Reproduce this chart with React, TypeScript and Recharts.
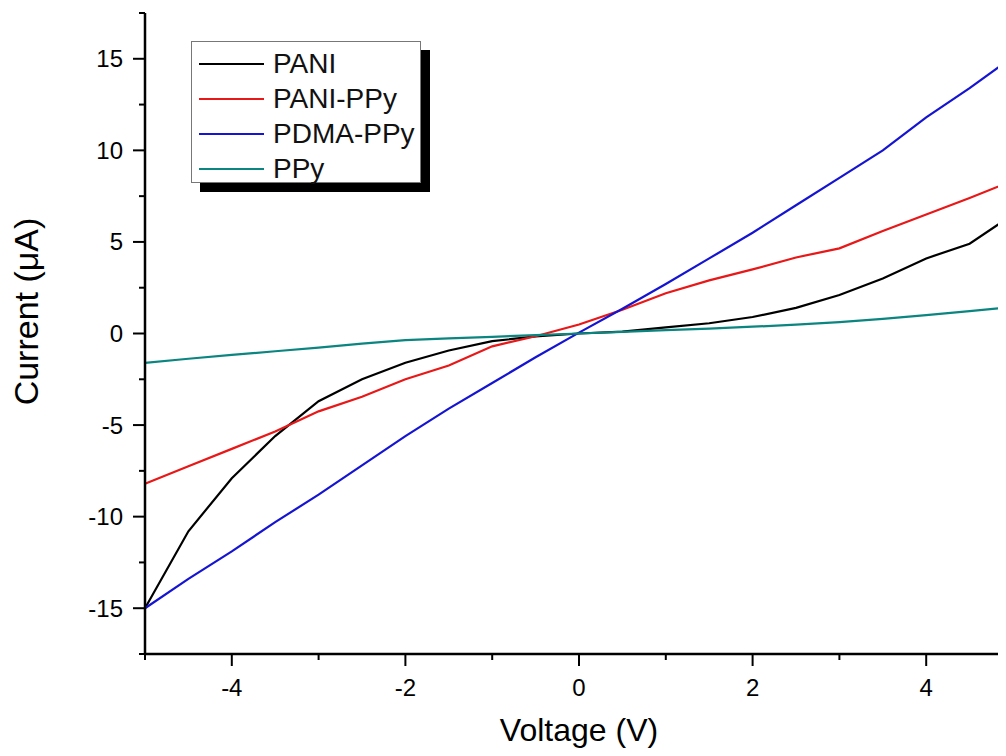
import { LineChart, Line, XAxis, YAxis, Legend } from 'recharts';

const FONT = '"Liberation Sans", Arial, sans-serif';

// I-V sweep, volts
const voltage = [-5, -4.5, -4, -3.5, -3, -2.5, -2, -1.5, -1, -0.5, 0, 0.5, 1, 1.5, 2, 2.5, 3, 3.5, 4, 4.5, 5];

// current in µA
const pani = [-15.0, -10.8, -7.9, -5.6, -3.7, -2.5, -1.6, -0.93, -0.42, -0.16, 0.0, 0.1, 0.33, 0.56, 0.9, 1.4, 2.1, 3.0, 4.1, 4.9, 6.5];
const paniPpy = [-8.2, -7.25, -6.3, -5.35, -4.25, -3.45, -2.5, -1.75, -0.7, -0.15, 0.49, 1.3, 2.2, 2.9, 3.5, 4.15, 4.65, 5.6, 6.5, 7.4, 8.35];
const pdmaPpy = [-15.0, -13.4, -11.9, -10.3, -8.8, -7.2, -5.6, -4.1, -2.7, -1.3, 0.05, 1.35, 2.7, 4.1, 5.5, 7.0, 8.5, 10.0, 11.8, 13.4, 15.1];
const ppy = [-1.6, -1.38, -1.17, -0.97, -0.77, -0.55, -0.36, -0.27, -0.18, -0.09, 0.0, 0.09, 0.18, 0.27, 0.37, 0.48, 0.62, 0.8, 1.0, 1.22, 1.46];

const xMajorTicks = [-4, -2, 0, 2, 4];
const xMinorTicks = [-5, -3, -1, 1, 3, 5];
const yMajorTicks = [-15, -10, -5, 0, 5, 10, 15];
const yMinorTicks = [-17.5, -12.5, -7.5, -2.5, 2.5, 7.5, 12.5, 17.5];

const series = [
  { key: 'pani', name: 'PANI', color: '#000000', values: pani },
  { key: 'paniPpy', name: 'PANI-PPy', color: '#e81818', values: paniPpy },
  { key: 'pdmaPpy', name: 'PDMA-PPy', color: '#1414d2', values: pdmaPpy },
  { key: 'ppy', name: 'PPy', color: '#0b8580', values: ppy },
];

const data = voltage.map((v, i) => {
  const row: Record<string, number> = { v };
  series.forEach((s) => { row[s.key] = s.values[i]; });
  return row;
});

const xTicks = [...xMinorTicks, ...xMajorTicks].sort((a, b) => a - b);
const yTicks = [...yMinorTicks, ...yMajorTicks].sort((a, b) => a - b);

// tick geometry: tickSize 12 + tickMargin, so the axis line sits at label pos minus/plus that
const X_OFF = 25;
const Y_OFF = 22;

function XTick(props: any) {
  const { x, y, payload } = props;
  const major = xMajorTicks.includes(payload.value);
  const ay = y - X_OFF;
  return (
    <g>
      <line x1={x} x2={x} y1={ay} y2={ay + (major ? 12 : 6)} stroke="#000" strokeWidth={2} />
      {major && (
        <text x={x} y={y} dy="0.71em" textAnchor="middle" fill="#000" style={{ fontSize: 24, fontFamily: FONT }}>
          {String(payload.value)}
        </text>
      )}
    </g>
  );
}

function YTick(props: any) {
  const { x, y, payload } = props;
  const major = yMajorTicks.includes(payload.value);
  const ax = x + Y_OFF;
  return (
    <g>
      <line x1={ax} x2={ax - (major ? 12 : 6)} y1={y} y2={y} stroke="#000" strokeWidth={2} />
      {major && (
        <text x={x} y={y} dy="0.355em" textAnchor="end" fill="#000" style={{ fontSize: 24, fontFamily: FONT }}>
          {String(payload.value)}
        </text>
      )}
    </g>
  );
}

function XTitle(props: any) {
  const vb = props.viewBox || { x: 137, y: 646, width: 868, height: 102 };
  return (
    <text x={vb.x + vb.width / 2} y={vb.y + 87} textAnchor="middle" fill="#000" style={{ fontSize: 32, fontFamily: FONT }}>
      Voltage (V)
    </text>
  );
}

function YTitle(props: any) {
  const vb = props.viewBox || { x: 0, y: 5, width: 137, height: 641 };
  const cx = vb.x + 18;
  const cy = vb.y + vb.height / 2 - 22;
  return (
    <text
      x={cx}
      y={cy}
      dy="0.355em"
      textAnchor="middle"
      transform={`rotate(-90, ${cx}, ${cy})`}
      fill="#000"
      style={{ fontSize: 34, fontFamily: FONT }}
    >
      Current (μA)
    </text>
  );
}

function LegendBox(props: any) {
  const items = props.payload || [];
  return (
    <div
      style={{
        width: 230,
        height: 142,
        boxSizing: 'border-box',
        background: '#fff',
        border: '1px solid #777',
        boxShadow: '9px 9px 0 #000',
        paddingTop: 4,
        fontFamily: FONT,
      }}
    >
      {items.map((item: any) => (
        <div key={item.value} style={{ display: 'flex', alignItems: 'center', height: 35 }}>
          <span style={{ display: 'inline-block', width: 65, height: 2, marginLeft: 7, background: item.color }} />
          <span style={{ marginLeft: 9, fontSize: 28, lineHeight: '35px', color: '#111' }}>{item.value}</span>
        </div>
      ))}
    </div>
  );
}

export default function App() {
  return (
    <div
      style={{
        width: 998,
        height: 748,
        marginRight: -8,
        marginBottom: -8,
        overflow: 'hidden',
        position: 'relative',
        background: '#fff',
      }}
    >
      <LineChart width={1015} height={748} data={data} margin={{ top: 5, right: 10, bottom: 0, left: 0 }}>
        <XAxis
          xAxisId="top"
          orientation="top"
          dataKey="v"
          type="number"
          domain={[-5, 5]}
          height={0}
          tick={false}
          tickLine={false}
          axisLine={{ stroke: '#000', strokeWidth: 2.5 }}
        />
        <XAxis
          xAxisId="x"
          dataKey="v"
          type="number"
          domain={[-5, 5]}
          ticks={xTicks}
          interval={0}
          height={102}
          tickSize={12}
          tickMargin={13}
          tickLine={false}
          tick={<XTick />}
          axisLine={{ stroke: '#000', strokeWidth: 2.5 }}
          label={<XTitle />}
        />
        <YAxis
          type="number"
          domain={[-17.5, 17.5]}
          ticks={yTicks}
          interval={0}
          width={137}
          tickSize={12}
          tickMargin={10}
          tickLine={false}
          tick={<YTick />}
          axisLine={{ stroke: '#000', strokeWidth: 2.5 }}
          label={<YTitle />}
        />
        <Legend
          layout="vertical"
          align="center"
          verticalAlign="middle"
          content={<LegendBox />}
          wrapperStyle={{ left: 183, top: 33, width: 240, height: 152 }}
        />
        {series.map((s) => (
          <Line
            key={s.key}
            xAxisId="x"
            type="linear"
            dataKey={s.key}
            name={s.name}
            stroke={s.color}
            strokeWidth={2.2}
            dot={false}
            isAnimationActive={false}
          />
        ))}
      </LineChart>
    </div>
  );
}
